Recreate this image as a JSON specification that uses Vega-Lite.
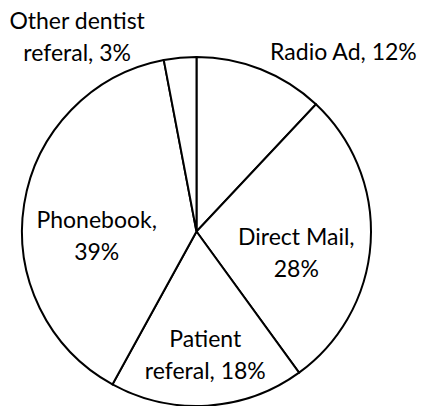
{
  "$schema": "https://vega.github.io/schema/vega-lite/v6.json",
  "width": 349,
  "height": 349,
  "autosize": "none",
  "padding": {"left": 22, "top": 57, "right": 52, "bottom": 0},
  "config": {"view": {"stroke": null}},
  "data": {
    "values": [
      {"rank": 1, "source": "Radio Ad", "value": 12, "label": "Radio Ad, 12%"},
      {"rank": 2, "source": "Direct Mail", "value": 28, "label": "Direct Mail,\n28%"},
      {"rank": 3, "source": "Patient referal", "value": 18, "label": "Patient\nreferal, 18%"},
      {"rank": 4, "source": "Phonebook", "value": 39, "label": "Phonebook,\n39%"},
      {"rank": 5, "source": "Other dentist referal", "value": 3, "label": "Other dentist\nreferal, 3%"}
    ]
  },
  "encoding": {
    "theta": {"field": "value", "type": "quantitative", "stack": true},
    "order": {"field": "rank", "type": "quantitative"}
  },
  "layer": [
    {"mark": {"type": "arc", "fill": "white", "stroke": "black", "strokeWidth": 2}},
    {
      "mark": {"type": "text", "radius": 190, "dx": 77, "dy": -2, "font": "Lato", "fontSize": 23, "lineHeight": 32, "lineBreak": "\n", "fill": "black"},
      "encoding": {"text": {"condition": {"test": "datum.source === 'Radio Ad'", "field": "label"}, "value": ""}}
    },
    {
      "mark": {"type": "text", "radius": 100, "dx": 0, "dy": 0, "font": "Lato", "fontSize": 23, "lineHeight": 32, "lineBreak": "\n", "fill": "black"},
      "encoding": {"text": {"condition": {"test": "datum.source === 'Direct Mail'", "field": "label"}, "value": ""}}
    },
    {
      "mark": {"type": "text", "radius": 124, "dx": 1, "dy": -15, "font": "Lato", "fontSize": 23, "lineHeight": 32, "lineBreak": "\n", "fill": "black"},
      "encoding": {"text": {"condition": {"test": "datum.source === 'Patient referal'", "field": "label"}, "value": ""}}
    },
    {
      "mark": {"type": "text", "radius": 100, "dx": -1, "dy": 5, "font": "Lato", "fontSize": 23, "lineHeight": 32, "lineBreak": "\n", "fill": "black"},
      "encoding": {"text": {"condition": {"test": "datum.source === 'Phonebook'", "field": "label"}, "value": ""}}
    },
    {
      "mark": {"type": "text", "radius": 195, "dx": -101, "dy": -15, "font": "Lato", "fontSize": 23, "lineHeight": 32, "lineBreak": "\n", "fill": "black"},
      "encoding": {"text": {"condition": {"test": "datum.source === 'Other dentist referal'", "field": "label"}, "value": ""}}
    }
  ]
}
